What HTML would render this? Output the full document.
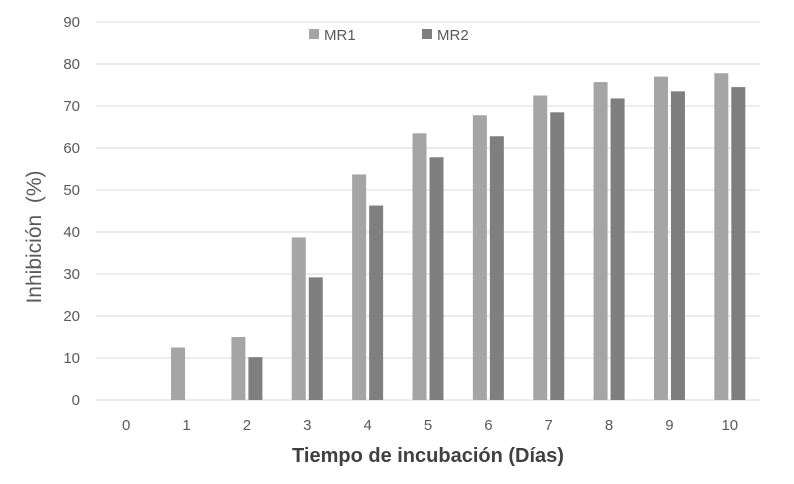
<!DOCTYPE html>
<html><head><meta charset="utf-8"><style>
body{margin:0;background:#fff;font-family:"Liberation Sans",sans-serif}
</style></head><body>
<svg id="c" width="794" height="479" xmlns="http://www.w3.org/2000/svg"></svg>
<script>
const categories=["0","1","2","3","4","5","6","7","8","9","10"];
const mr1=[0,12.5,15,38.7,53.7,63.5,67.8,72.5,75.7,77,77.8];
const mr2=[0,0,10.2,29.2,46.3,57.8,62.8,68.5,71.8,73.5,74.5];
const yTicks=[0,10,20,30,40,50,60,70,80,90];
const svg=document.getElementById('c');
const NS='http://www.w3.org/2000/svg';
const L=96,R=760,T=22,B=400;
const y=v=>B-(v/90)*(B-T);
const step=(R-L)/categories.length;
const x=i=>L+step*(i+0.5);
function mk(t,a){const e=document.createElementNS(NS,t);for(const k in a)e.setAttribute(k,a[k]);svg.appendChild(e);return e;}
yTicks.forEach(v=>{
 const g=mk('line',{x1:L,x2:R,y1:y(v),y2:y(v),stroke:'#d9d9d9','stroke-width':1});
 
 
 const t=mk('text',{x:80,y:y(v)+5,'text-anchor':'end','font-size':15,fill:'#595959'});
 t.textContent=v;
 
 
});
const bw=14;
categories.forEach((c,i)=>{
 const b1=mk('rect',{x:x(i)-bw-1.5,y:y(mr1[i]),width:bw,height:B-y(mr1[i]),fill:'#a5a5a5'});
 
 
 const b2=mk('rect',{x:x(i)+1.5,y:y(mr2[i]),width:bw,height:B-y(mr2[i]),fill:'#7f7f7f'});
 
 
 const t=mk('text',{x:x(i),y:430,'text-anchor':'middle','font-size':15,fill:'#595959'});
 t.textContent=c;
 
 
});
</script>
<svg style="position:absolute;left:0;top:0" width="794" height="479" xmlns="http://www.w3.org/2000/svg">
<g>
<rect x="309" y="29" width="10" height="10" fill="#a5a5a5"/>
<text x="324" y="40" font-size="15" fill="#595959" font-family="Liberation Sans">MR1</text>
<rect x="422" y="29" width="10" height="10" fill="#7f7f7f"/>
<text x="437" y="40" font-size="15" fill="#595959" font-family="Liberation Sans">MR2</text>
</g>
<text x="428" y="462" text-anchor="middle" font-size="20" font-weight="bold" fill="#404040" font-family="Liberation Sans">Tiempo de incubación (Días)</text>
<text transform="translate(41,237) rotate(-90)" text-anchor="middle" font-size="21" fill="#595959" font-family="Liberation Sans" xml:space="preserve">Inhibición  (%)</text>
</svg>
</body></html>
